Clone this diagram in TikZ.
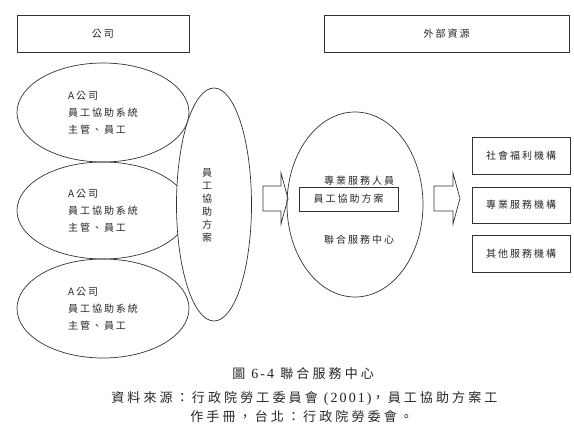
\documentclass[tikz,border=0pt]{standalone}
\usepackage{fontspec}
\setmainfont{Liberation Serif}
\newfontfamily\cjk[LetterSpace=20]{Noto Sans CJK TC}
\newfontfamily\cjkcap[LetterSpace=24]{Noto Sans CJK TC}
\newfontfamily\capnum[LetterSpace=15]{Liberation Serif}
\newcommand\capdigits[1]{{\capnum\fontsize{14}{15}\selectfont #1}}
\usetikzlibrary{shapes.geometric}
\tikzset{
  lbl/.style={font=\cjk\fontsize{10}{17}\selectfont, text=black!85},
  caplbl/.style={font=\cjkcap\fontsize{13}{15}\selectfont, text=black!85, inner sep=0, anchor=west},
  boxnode/.style={draw, rectangle, inner sep=0, lbl},
  oval/.style={draw, ellipse, inner sep=0},
  blockarrow/.style={draw, fill=white},
}
\begin{document}
\begin{tikzpicture}[x=1pt, y=-1pt, line width=0.7pt, draw=black!80]
\path[use as bounding box, fill=white] (0,0) rectangle (574,429);

% top boxes
\node[boxnode, minimum width=172, minimum height=37] (company) at (103,33.5) {公司};
\node[boxnode, minimum width=245, minimum height=37] (external) at (446.5,33.5) {外部資源};

% left company ellipses
\node[oval, lbl, align=left, minimum width=172, minimum height=99] (c1) at (103,112.5) {A公司\\員工協助系統\\主管、員工};
\node[oval, lbl, align=left, minimum width=172, minimum height=97] (c2) at (103,210.5) {A公司\\員工協助系統\\主管、員工};
\node[oval, lbl, align=left, minimum width=172, minimum height=99] (c3) at (103,308.5) {A公司\\員工協助系統\\主管、員工};

% tall ellipse
\node[oval, fill=white, minimum width=75, minimum height=233] (eap) at (214,204.5) {};
\node[lbl, font=\cjk\fontsize{10}{13}\selectfont, align=center, inner sep=0] (eaptext) at (207,205.5) {員\\工\\協\\助\\方\\案};

% block arrow 1
\draw[blockarrow] (263,186) -- (281,186) -- (281,173) -- (288,198.5) -- (281,224) -- (281,211) -- (263,211) -- cycle;

% center ellipse
\node[oval, minimum width=136, minimum height=185] (center) at (355,204.5) {};
\node[lbl, inner sep=0] (staff) at (359,181) {專業服務人員};
\node[boxnode, minimum width=99, minimum height=24] (inner) at (348.5,199) {員工協助方案};
\node[lbl, inner sep=0] (jsc) at (359,240) {聯合服務中心};

% block arrow 2
\draw[blockarrow] (434,186) -- (453,186) -- (453,173) -- (460,198.5) -- (453,224) -- (453,211) -- (434,211) -- cycle;

% right boxes
\node[boxnode, minimum width=98, minimum height=37] (r1) at (521,155.5) {社會福利機構};
\node[boxnode, minimum width=98, minimum height=36] (r2) at (521,205) {專業服務機構};
\node[boxnode, minimum width=98, minimum height=37] (r3) at (521,253.5) {其他服務機構};

% caption
\node[caplbl] (cap1) at (232,374) {圖 \capdigits{6-4} 聯合服務中心};
\node[caplbl] (cap2) at (111,398) {資料來源：行政院勞工委員會 \capdigits{(2001)}，員工協助方案工};
\node[caplbl] (cap3) at (190,417) {作手冊，台北：行政院勞委會。};
\end{tikzpicture}
\end{document}
